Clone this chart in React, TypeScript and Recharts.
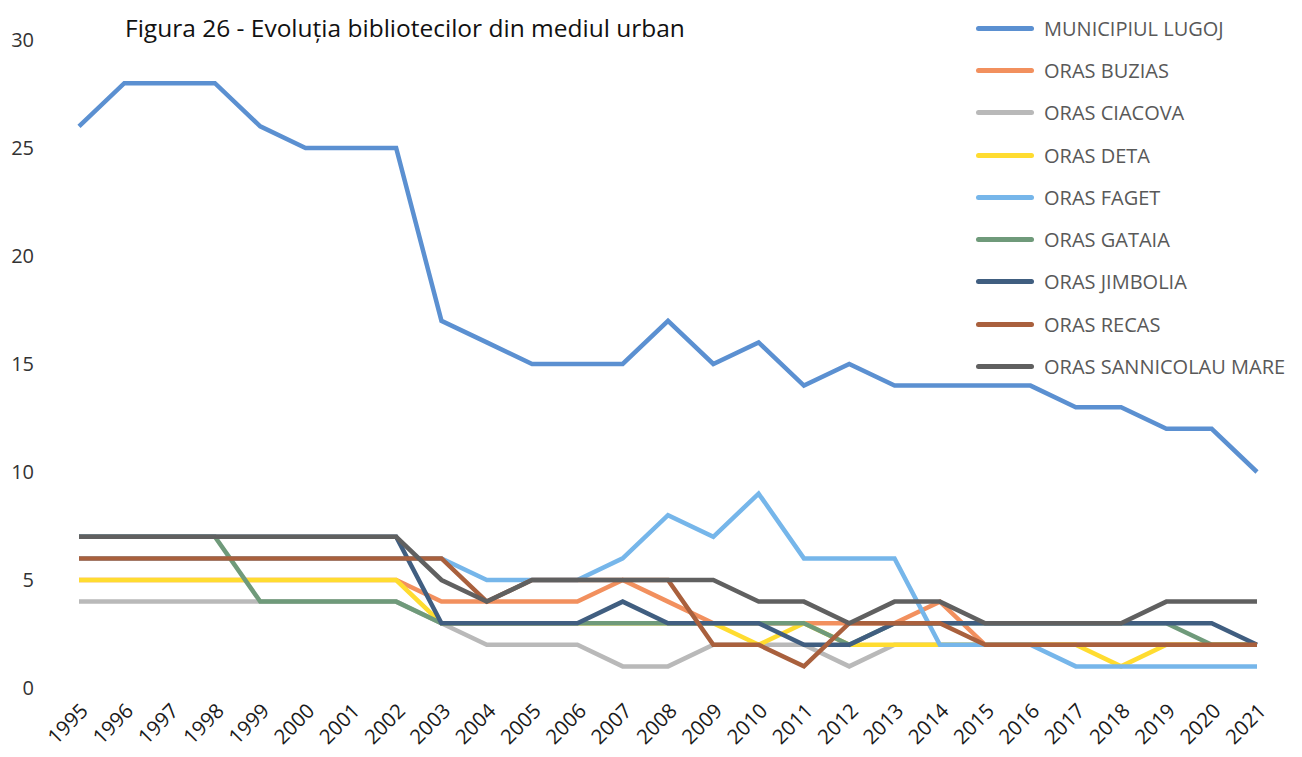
import { LineChart, Line, XAxis, YAxis, Legend } from 'recharts';

const years = ['1995', '1996', '1997', '1998', '1999', '2000', '2001', '2002', '2003', '2004', '2005', '2006', '2007', '2008', '2009', '2010', '2011', '2012', '2013', '2014', '2015', '2016', '2017', '2018', '2019', '2020', '2021'];

const lugoj = [26, 28, 28, 28, 26, 25, 25, 25, 17, 16, 15, 15, 15, 17, 15, 16, 14, 15, 14, 14, 14, 14, 13, 13, 12, 12, 10];
const buzias = [5, 5, 5, 5, 5, 5, 5, 5, 4, 4, 4, 4, 5, 4, 3, 3, 3, 3, 3, 4, 2, 2, 2, 2, 2, 2, 2];
const ciacova = [4, 4, 4, 4, 4, 4, 4, 4, 3, 2, 2, 2, 1, 1, 2, 2, 2, 1, 2, 2, 2, 2, 2, 2, 2, 2, 2];
const deta = [5, 5, 5, 5, 5, 5, 5, 5, 3, 3, 3, 3, 3, 3, 3, 2, 3, 2, 2, 2, 2, 2, 2, 1, 2, 2, 2];
const faget = [6, 6, 6, 6, 6, 6, 6, 6, 6, 5, 5, 5, 6, 8, 7, 9, 6, 6, 6, 2, 2, 2, 1, 1, 1, 1, 1];
const gataia = [7, 7, 7, 7, 4, 4, 4, 4, 3, 3, 3, 3, 3, 3, 3, 3, 3, 2, 3, 3, 3, 3, 3, 3, 3, 2, 2];
const jimbolia = [7, 7, 7, 7, 7, 7, 7, 7, 3, 3, 3, 3, 4, 3, 3, 3, 2, 2, 3, 3, 3, 3, 3, 3, 3, 3, 2];
const recas = [6, 6, 6, 6, 6, 6, 6, 6, 6, 4, 5, 5, 5, 5, 2, 2, 1, 3, 3, 3, 2, 2, 2, 2, 2, 2, 2];
const sannicolau = [7, 7, 7, 7, 7, 7, 7, 7, 5, 4, 5, 5, 5, 5, 5, 4, 4, 3, 4, 4, 3, 3, 3, 3, 4, 4, 4];

const yTicks = [0, 5, 10, 15, 20, 25, 30];

const SERIES = [
  { key: 'lugoj', name: 'MUNICIPIUL LUGOJ', values: lugoj, color: '#5B90D1' },
  { key: 'buzias', name: 'ORAS BUZIAS', values: buzias, color: '#F2905E' },
  { key: 'ciacova', name: 'ORAS CIACOVA', values: ciacova, color: '#B9B9B9' },
  { key: 'deta', name: 'ORAS DETA', values: deta, color: '#FFDC30' },
  { key: 'faget', name: 'ORAS FAGET', values: faget, color: '#76B6EA' },
  { key: 'gataia', name: 'ORAS GATAIA', values: gataia, color: '#6F9A7A' },
  { key: 'jimbolia', name: 'ORAS JIMBOLIA', values: jimbolia, color: '#405E80' },
  { key: 'recas', name: 'ORAS RECAS', values: recas, color: '#A9603D' },
  { key: 'sannicolau', name: 'ORAS SANNICOLAU MARE', values: sannicolau, color: '#606060' },
];

const data = years.map((year, i) => {
  const row: Record<string, string | number> = { year };
  SERIES.forEach((s) => { row[s.key] = s.values[i]; });
  return row;
});

const FONT = '"Open Sans", Lato, sans-serif';

function LegendList() {
  return (
    <div>
      {SERIES.map((s) => (
        <div key={s.key} style={{ display: 'flex', alignItems: 'center', height: 42.3 }}>
          <div style={{ width: 58, height: 5, background: s.color, borderRadius: 3 }} />
          <span style={{ marginLeft: 10, fontSize: 20, color: '#595959', fontFamily: FONT, whiteSpace: 'nowrap' }}>{s.name}</span>
        </div>
      ))}
    </div>
  );
}

export default function App() {
  return (
    <div style={{ position: 'absolute', left: 0, top: 0, width: 1302, height: 757, background: '#fff', overflow: 'hidden' }}>
      <LineChart width={1302} height={757} data={data} margin={{ top: 40, right: 45, bottom: 0, left: 0 }}>
        <XAxis
          dataKey="year"
          axisLine={false}
          tickLine={false}
          interval={0}
          angle={-45}
          textAnchor="end"
          tickSize={0}
          tickMargin={14}
          height={69}
          tick={{ fill: '#1a1a1a', fontSize: 20.5, fontFamily: FONT }}
        />
        <YAxis
          domain={[0, 30]}
          ticks={yTicks}
          axisLine={false}
          tickLine={false}
          width={79}
          tickSize={0}
          tickMargin={45}
          tick={{ fill: '#333', fontSize: 20, fontFamily: FONT }}
        />
        <Legend
          layout="vertical"
          align="center"
          verticalAlign="middle"
          content={() => <LegendList />}
          wrapperStyle={{ left: 976, top: 7, width: 330 }}
        />
        {SERIES.map((s) => (
          <Line
            key={s.key}
            type="linear"
            dataKey={s.key}
            name={s.name}
            stroke={s.color}
            strokeWidth={4.5}
            dot={false}
            activeDot={false}
            isAnimationActive={false}
          />
        ))}
      </LineChart>
      <div style={{ position: 'absolute', left: 125, top: 11, fontSize: 24.5, fontFamily: FONT, color: '#111' }}>
        Figura 26 - Evoluția bibliotecilor din mediul urban
      </div>
    </div>
  );
}
